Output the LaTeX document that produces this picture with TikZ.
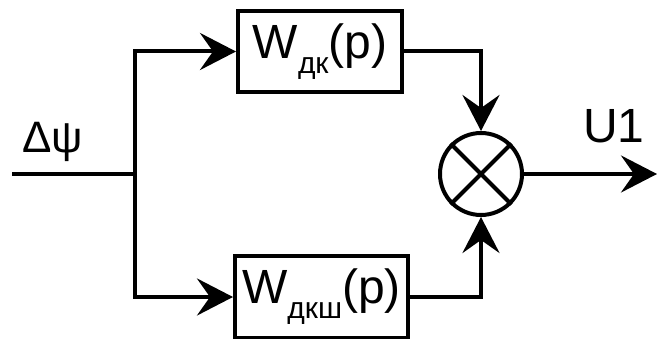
\documentclass[tikz,border=0pt]{standalone}
\usepackage{fontspec}
\setmainfont{Liberation Sans}
\usetikzlibrary{arrows.meta,positioning}
\newcommand{\lowsub}[1]{{\fontsize{30}{31}\selectfont\raisebox{-15pt}{#1}}}

\begin{document}
\begin{tikzpicture}[
  x=1pt, y=1pt,
  line width=4pt,
  box/.style={draw, minimum height=81pt, inner xsep=1pt, inner ysep=0pt,
    font=\fontsize{48}{50}\selectfont},
  mul/.style={draw, circle, minimum size=82pt, inner sep=0pt},
  lbl/.style={inner sep=0pt},
  arr/.style={-{Stealth[length=36pt, width=37pt, inset=13pt]}}
]
  \useasboundingbox (0,0) rectangle (657,338);
  \coordinate (in) at (12,164);
  \coordinate (split) at (135,164);
  \coordinate (out) at (657,164);
  \node[box, minimum width=164pt] (wdk) at (320,286.5) {W\lowsub{дк}(p)};
  \node[box, minimum width=173pt] (wdksh) at (321.5,41) {W\lowsub{дкш}(p)};
  \node[mul] (mult) at (481,164) {};
  \draw (mult.north west) -- (mult.south east);
  \draw (mult.north east) -- (mult.south west);
  \draw (in) -- (split);
  \draw[arr] (split) |- (wdk.west);
  \draw[arr] (split) |- (wdksh.west);
  \draw[arr] (wdk.east) -| (mult.north);
  \draw[arr] (wdksh.east) -| (mult.south);
  \draw[arr] (mult.east) -- (out);
  \node[lbl, anchor=base west, font=\fontsize{44}{46}\selectfont] (dpsi) at (20,185) {Δψ};
  \node[lbl, anchor=base west, font=\fontsize{48}{50}\selectfont] (u1) at (581,195) {U1};
\end{tikzpicture}
\end{document}
